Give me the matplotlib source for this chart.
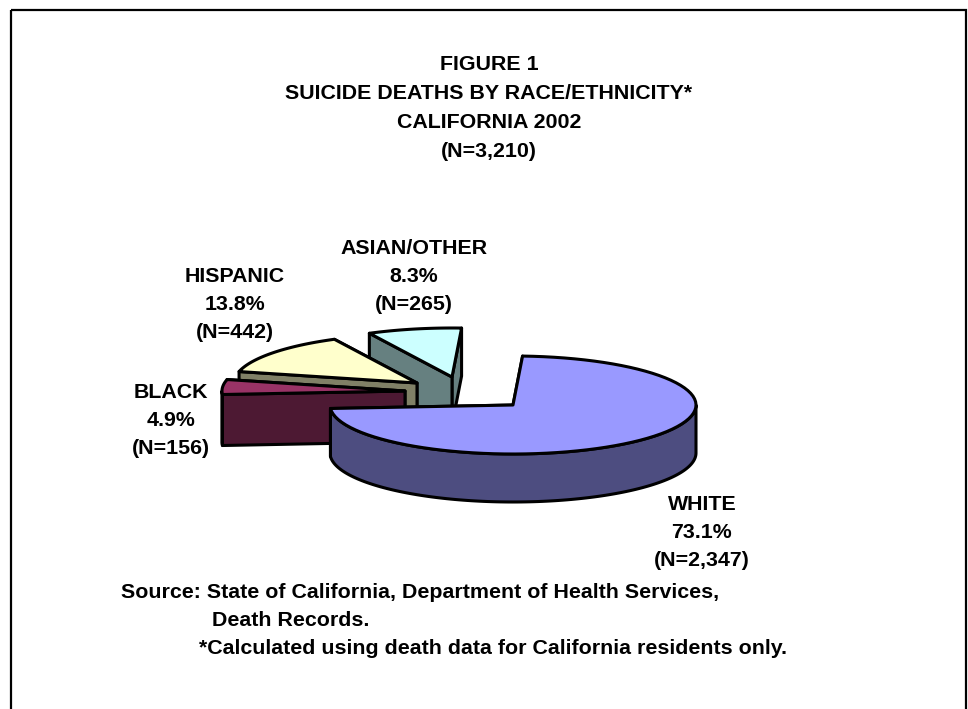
import numpy as np
import matplotlib
matplotlib.use("Agg")
import matplotlib.pyplot as plt
from matplotlib.patches import Polygon, Rectangle

plt.rcParams["font.family"] = ["Liberation Sans", "DejaVu Sans"]

# --------------------------------
# Data
# --------------------------------
groups = ["WHITE", "BLACK", "HISPANIC", "ASIAN/OTHER"]
percent = [73.1, 4.9, 13.8, 8.3]
counts = ["2,347", "156", "442", "265"]

title_lines = [
    "FIGURE 1",
    "SUICIDE DEATHS BY RACE/ETHNICITY*",
    "CALIFORNIA 2002",
    "(N=3,210)",
]

# --------------------------------
# Styles (pixel layout of the 3D pie)
# --------------------------------
top_colors = ["#9999ff", "#993366", "#ffffcc", "#ccffff"]
side_colors = ["#4d4d80", "#4d1933", "#808066", "#668080"]
apex = [(513, 405), (405, 391), (417, 383), (452, 377)]
label_pos = [(702, 505), (171, 393), (235, 277), (414, 248)]
depths = [48, 51, 48, 48]

rx = 183
ry = 49
start_angle = 87
line_w = 2.2
line_gap = 28

fig = plt.figure(figsize=(9.68, 7.09), dpi=100)
ax = fig.add_axes([0, 0, 1, 1])
ax.set_xlim(0, 968)
ax.set_ylim(709, 0)
ax.axis("off")

ax.add_patch(Rectangle((11, 10), 955, 760, fill=False, ec="black", lw=1.6))


def arc_points(center, a0, a1, n=80):
    t = np.radians(np.linspace(a0, a1, n))
    return np.column_stack([center[0] + rx*np.cos(t), center[1] - ry*np.sin(t)])


def poly(points, color, z):
    ax.add_patch(Polygon(points, closed=True, fc=color, ec="black", lw=line_w,
                         joinstyle="round", zorder=z))


# slices turn clockwise from the start angle
sweep = np.array(percent)/sum(percent)*360
ends = start_angle - np.cumsum(sweep)
starts = ends + sweep

# back slices first, white goes on top
for z, i in enumerate([3, 2, 1, 0]):
    c = apex[i]
    arc = arc_points(c, starts[i], ends[i])
    down = np.array([0, depths[i]])
    base = z*10

    # the two cut walls, far one first
    for p in (arc[-1], arc[0]):
        wall = [c, p, p + down, np.array(c) + down]
        poly(wall, side_colors[i], base + 1)

    # outer wall, only the part facing the viewer
    t = np.radians(np.linspace(starts[i], ends[i], 200))
    front = np.sin(t) < 0
    if front.any():
        rim = np.column_stack([c[0] + rx*np.cos(t[front]), c[1] - ry*np.sin(t[front])])
        poly(np.vstack([rim, (rim + down)[::-1]]), side_colors[i], base + 2)

    poly(np.vstack([[c], arc]), top_colors[i], base + 3)

# --------------------------------
# Text
# --------------------------------
text_kw = dict(fontsize=15.4, fontweight="bold", va="center", color="black", zorder=100)

for k, line in enumerate(title_lines):
    ax.text(489, 64 + k*29.3, line, ha="center", **text_kw)

for g, p, n, pos in zip(groups, percent, counts, label_pos):
    for k, line in enumerate([g, f"{p}%", f"(N={n})"]):
        ax.text(pos[0], pos[1] + k*line_gap, line, ha="center", **text_kw)

ax.text(121, 592, "Source: State of California, Department of Health Services,", ha="left", **text_kw)
ax.text(212, 620, "Death Records.", ha="left", **text_kw)
ax.text(199, 649, "*Calculated using death data for California residents only.", ha="left", **text_kw)

fig.savefig("out.png", dpi=100)
